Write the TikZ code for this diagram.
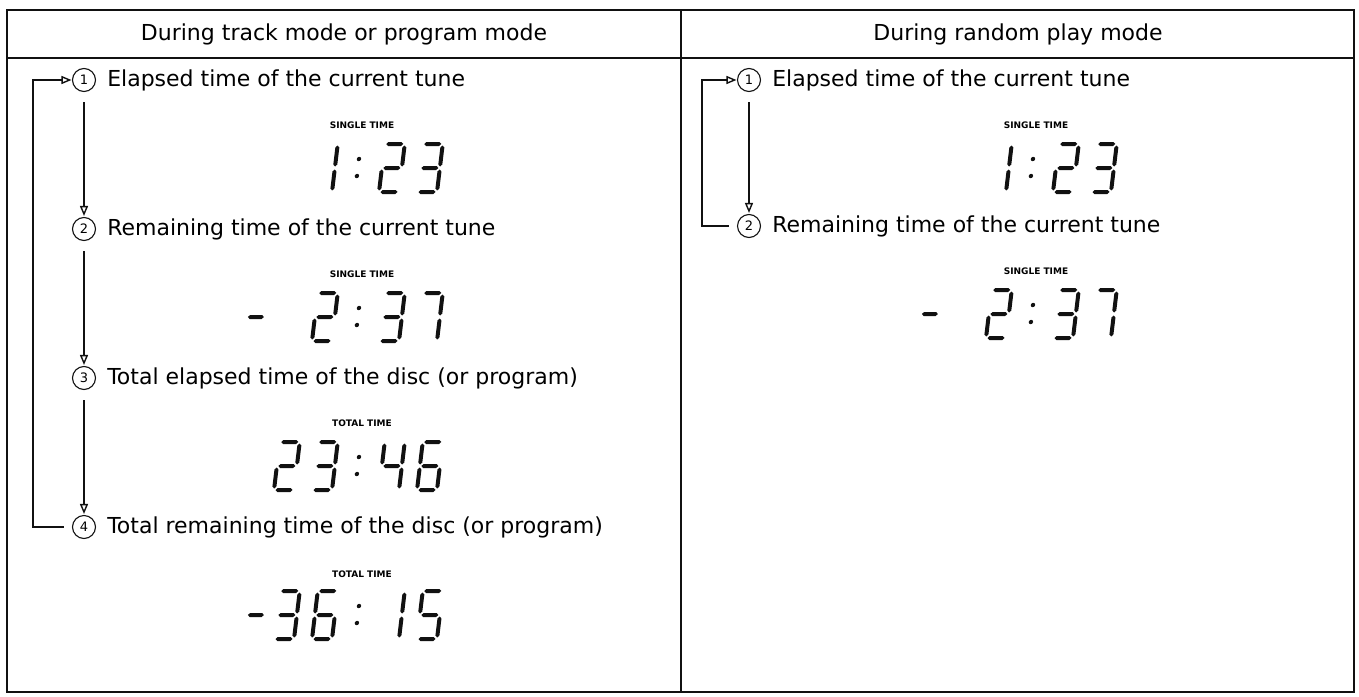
\documentclass[tikz,border=0pt]{standalone}
\usepackage{fontspec}
\setmainfont{DejaVu Sans}
\usetikzlibrary{positioning,arrows.meta}

\definecolor{ManualInk}{HTML}{111111}

% seven segment readout, local units in pt (x=1pt,y=1pt)
\newcommand{\hseg}[3]{\fill[ManualInk] (#1,#3) -- ({#1+2},{#3+2}) -- ({#2-2},{#3+2}) -- (#2,#3)
  -- ({#2-2},{#3-2}) -- ({#1+2},{#3-2}) -- cycle;}
\newcommand{\vseg}[3]{\fill[ManualInk] (#1,#2) -- ({#1+2},{#2+2}) -- ({#1+2},{#3-2}) -- (#1,#3)
  -- ({#1-2},{#3-2}) -- ({#1-2},{#2+2}) -- cycle;}
\newcommand{\segA}{\hseg{1.5}{18.5}{48}}
\newcommand{\segB}{\vseg{20}{25.5}{46.5}}
\newcommand{\segC}{\vseg{20}{1.5}{22.5}}
\newcommand{\segD}{\hseg{1.5}{18.5}{0}}
\newcommand{\segE}{\vseg{0}{1.5}{22.5}}
\newcommand{\segF}{\vseg{0}{25.5}{46.5}}
\newcommand{\segG}{\hseg{1.5}{18.5}{24}}
\newcommand{\digOne}{\segB\segC}
\newcommand{\digTwo}{\segA\segB\segG\segE\segD}
\newcommand{\digThree}{\segA\segB\segG\segC\segD}
\newcommand{\digFour}{\segF\segG\segB\segC}
\newcommand{\digFive}{\segA\segF\segG\segC\segD}
\newcommand{\digSix}{\segA\segF\segG\segE\segD\segC}
\newcommand{\digSeven}{\segA\segB\segC}
\newcommand{\lcdcolon}{\fill[ManualInk] (11,16) circle (2.2) (11,33) circle (2.2);}
\newcommand{\lcdminus}{\hseg{-99}{-83}{24}}
\newcommand{\lcdat}[2]{\begin{scope}[shift={(#1,0)}]#2\end{scope}}
\newcommand{\lcdreadout}[3]{\begin{scope}[shift={(#1,#2)},xslant=0.12]#3\end{scope}}

\begin{document}
\begin{tikzpicture}[x=1pt,y=1pt,
    boxline/.style={ManualInk,line width=2pt},
    ruleline/.style={ManualInk,line width=1.2pt},
    headtext/.style={font=\fontsize{22}{26}\selectfont,inner sep=0pt},
    steptext/.style={font=\fontsize{22}{26}\selectfont,inner sep=0pt},
    num/.style={circle,draw=ManualInk,line width=1.1pt,minimum size=23pt,inner sep=0pt,
      font=\fontsize{13}{13}\selectfont},
    lcdlabel/.style={font=\bfseries\fontsize{9}{10}\selectfont,inner sep=0pt},
    flow/.style={ManualInk,line width=1.1pt,
      -{Triangle[open,length=10pt,width=8pt,line width=1.4pt]}},
    stepflow/.style={flow,shorten <=10pt,shorten >=1pt},
    loopflow/.style={flow,shorten <=8pt,shorten >=0.5pt}]
  \useasboundingbox (0,0) rectangle (1359,-696);

  % table
  \draw[boxline] (7,-10) rectangle (1354,-692);
  \draw[ruleline] (7,-58) -- (1354,-58);
  \draw[ruleline] (681,-10) -- (681,-692);
  \node[headtext] (hleft) at (344,-34) {During track mode or program mode};
  \node[headtext] (hright) at (1018,-34) {During random play mode};

  % track / program mode
  \node[num] (l1) at (84,-80) {1};
  \node[num] (l2) at (84,-229) {2};
  \node[num] (l3) at (84,-378) {3};
  \node[num] (l4) at (84,-527) {4};
  \node[steptext,anchor=west,right=11pt of l1] (l1t) {Elapsed time of the current tune};
  \node[steptext,anchor=west,right=11pt of l2] (l2t) {Remaining time of the current tune};
  \node[steptext,anchor=west,right=11pt of l3] (l3t) {Total elapsed time of the disc (or program)};
  \node[steptext,anchor=west,right=11pt of l4] (l4t) {Total remaining time of the disc (or program)};
  \draw[stepflow] (l1) -- (l2);
  \draw[stepflow] (l2) -- (l3);
  \draw[stepflow] (l3) -- (l4);
  \coordinate (lloop) at (33,-80);
  \draw[loopflow] (l4.west) -| (lloop) -- (l1.west);

  \node[lcdlabel] (l1lab) at (362,-125) {SINGLE TIME};
  \lcdreadout{344}{-192}{\lcdat{-32}{\digOne}\lcdcolon\lcdat{35}{\digTwo}\lcdat{73}{\digThree}}
  \node[lcdlabel] (l2lab) at (362,-274) {SINGLE TIME};
  \lcdreadout{344}{-341}{\lcdminus\lcdat{-32}{\digTwo}\lcdcolon\lcdat{35}{\digThree}\lcdat{73}{\digSeven}}
  \node[lcdlabel] (l3lab) at (362,-423) {TOTAL TIME};
  \lcdreadout{344}{-490}{\lcdat{-70}{\digTwo}\lcdat{-32}{\digThree}\lcdcolon\lcdat{35}{\digFour}\lcdat{73}{\digSix}}
  \node[lcdlabel] (l4lab) at (362,-574) {TOTAL TIME};
  \lcdreadout{344}{-639}{\lcdminus\lcdat{-70}{\digThree}\lcdat{-32}{\digSix}\lcdcolon\lcdat{35}{\digOne}\lcdat{73}{\digFive}}

  % random play mode
  \node[num] (r1) at (749,-80) {1};
  \node[num] (r2) at (749,-226) {2};
  \node[steptext,anchor=west,right=11pt of r1] (r1t) {Elapsed time of the current tune};
  \node[steptext,anchor=west,right=11pt of r2] (r2t) {Remaining time of the current tune};
  \draw[stepflow] (r1) -- (r2);
  \coordinate (rloop) at (702,-80);
  \draw[loopflow] (r2.west) -| (rloop) -- (r1.west);

  \node[lcdlabel] (r1lab) at (1036,-125) {SINGLE TIME};
  \lcdreadout{1018}{-192}{\lcdat{-32}{\digOne}\lcdcolon\lcdat{35}{\digTwo}\lcdat{73}{\digThree}}
  \node[lcdlabel] (r2lab) at (1036,-271) {SINGLE TIME};
  \lcdreadout{1018}{-338}{\lcdminus\lcdat{-32}{\digTwo}\lcdcolon\lcdat{35}{\digThree}\lcdat{73}{\digSeven}}
\end{tikzpicture}
\end{document}
